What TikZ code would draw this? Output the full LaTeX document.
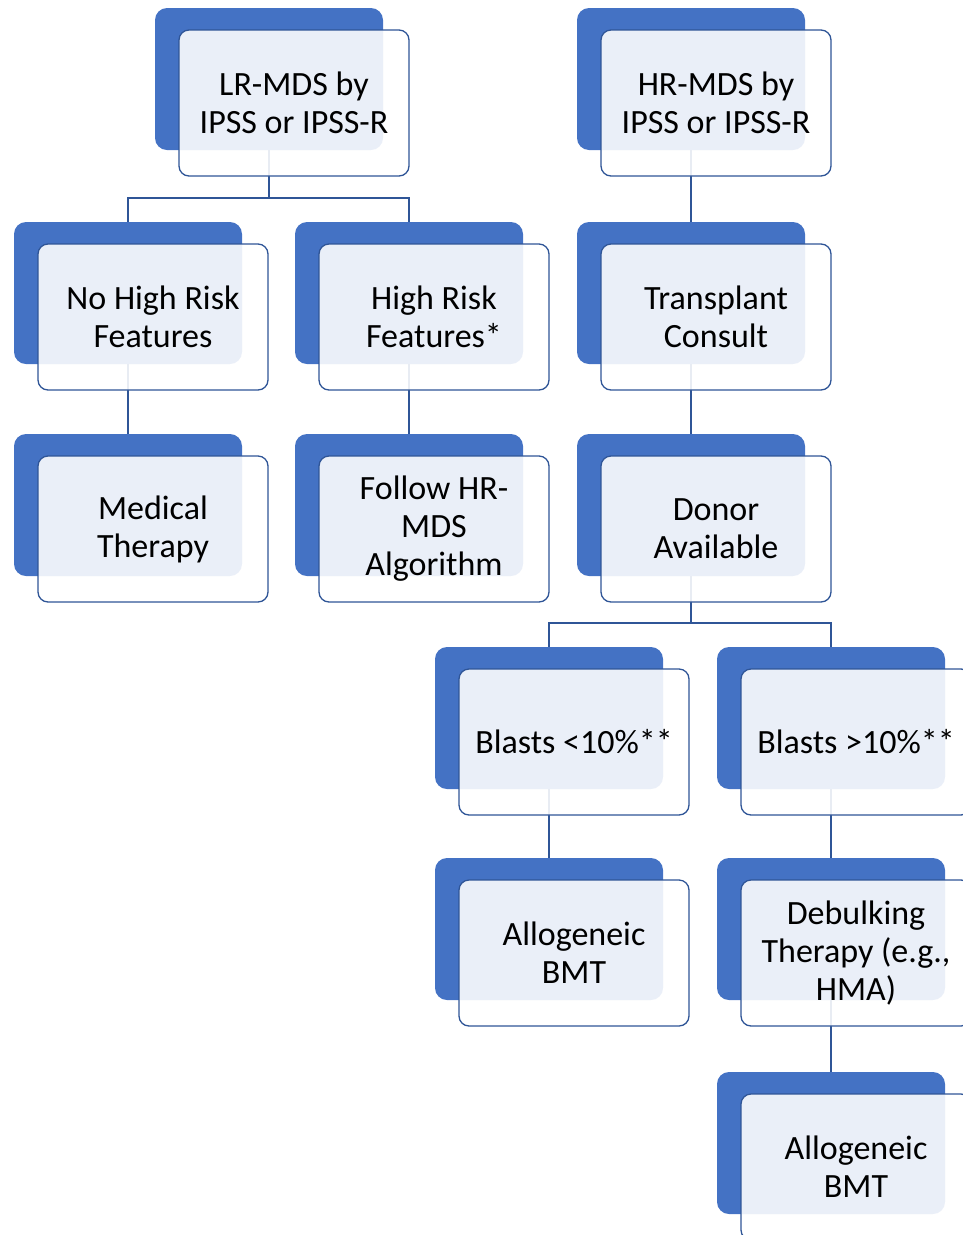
\documentclass[tikz,border=0pt]{standalone}
\usepackage{fontspec}
\setmainfont{Carlito}
\usetikzlibrary{calc}
\definecolor{cardblue}{HTML}{4472C4}
\definecolor{edgeblue}{HTML}{2F5597}
\tikzset{
  cardback/.style={rectangle, fill=cardblue, rounded corners=12pt,
                   minimum width=228pt, minimum height=142pt, inner sep=0pt},
  cardfront/.style={rectangle, draw=edgeblue, line width=1.3pt, fill=white,
                    fill opacity=0.89, text opacity=1, rounded corners=10pt,
                    minimum width=230pt, minimum height=146pt, inner sep=2pt,
                    align=center, font=\fontsize{34}{38}\selectfont},
  link/.style={draw=edgeblue, line width=1.6pt}
}
\begin{document}
\begin{tikzpicture}[x=1pt,y=-1pt]
  \useasboundingbox (0,0) rectangle (962,1235);

  % Back plates
  \node[cardback] (lrB)  at (269,79)   {};
  \node[cardback] (hrB)  at (691,79)   {};
  \node[cardback] (nhB)  at (128,293)  {};
  \node[cardback] (hfB)  at (409,293)  {};
  \node[cardback] (tcB)  at (691,293)  {};
  \node[cardback] (medB) at (128,505)  {};
  \node[cardback] (folB) at (409,505)  {};
  \node[cardback] (donB) at (691,505)  {};
  \node[cardback] (ltB)  at (549,718)  {};
  \node[cardback] (gtB)  at (831,718)  {};
  \node[cardback] (al1B) at (549,929)  {};
  \node[cardback] (debB) at (831,929)  {};
  \node[cardback] (al2B) at (831,1143) {};

  % Connectors
  \draw[link] (lrB.south) -- ++(0,48) -| (nhB.north);
  \draw[link] (lrB.south) -- ++(0,48) -| (hfB.north);
  \draw[link] (hrB.south) -- (tcB.north);
  \draw[link] (nhB.south) -- (medB.north);
  \draw[link] (hfB.south) -- (folB.north);
  \draw[link] (tcB.south) -- (donB.north);
  \draw[link] (donB.south) -- ++(0,47) -| (ltB.north);
  \draw[link] (donB.south) -- ++(0,47) -| (gtB.north);
  \draw[link] (ltB.south) -- (al1B.north);
  \draw[link] (gtB.south) -- (debB.north);
  \draw[link] (debB.south) -- (al2B.north);

  % Front cards
  \node[cardfront] (lr)  at ($(lrB)+(25,24)$)  {LR-MDS by\\IPSS or IPSS-R};
  \node[cardfront] (hr)  at ($(hrB)+(25,24)$)  {HR-MDS by\\IPSS or IPSS-R};
  \node[cardfront] (nh)  at ($(nhB)+(25,24)$)  {No High Risk\\Features};
  \node[cardfront] (hf)  at ($(hfB)+(25,24)$)  {High Risk\\Features*};
  \node[cardfront] (tc)  at ($(tcB)+(25,24)$)  {Transplant\\Consult};
  \node[cardfront] (med) at ($(medB)+(25,24)$) {Medical\\Therapy};
  \node[cardfront] (fol) at ($(folB)+(25,24)$) {Follow HR-\\MDS\\Algorithm};
  \node[cardfront] (don) at ($(donB)+(25,24)$) {Donor\\Available};
  \node[cardfront] (lt)  at ($(ltB)+(25,24)$)  {Blasts <10\%**};
  \node[cardfront] (gt)  at ($(gtB)+(25,24)$)  {Blasts >10\%**};
  \node[cardfront] (al1) at ($(al1B)+(25,24)$) {Allogeneic\\BMT};
  \node[cardfront] (deb) at ($(debB)+(25,24)$) {Debulking\\Therapy (e.g.,\\HMA)};
  \node[cardfront] (al2) at ($(al2B)+(25,24)$) {Allogeneic\\BMT};
\end{tikzpicture}
\end{document}
